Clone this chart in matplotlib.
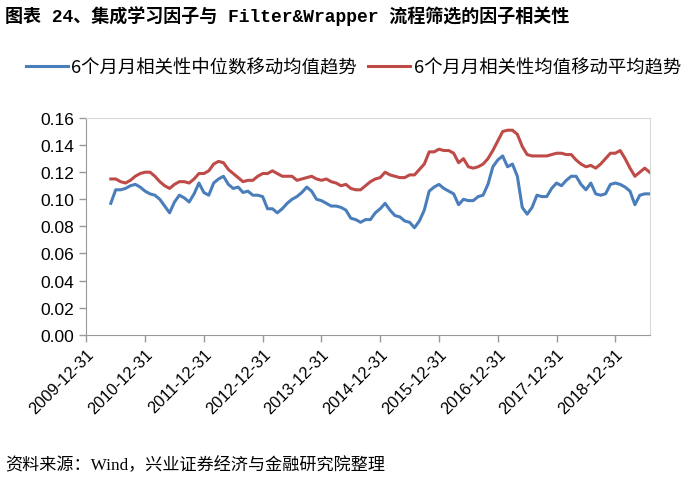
import numpy as np
import pandas as pd
import matplotlib
matplotlib.use("Agg")
import matplotlib.pyplot as plt

plt.rcParams["font.family"] = ["Noto Sans CJK SC", "DejaVu Sans"]

# monthly series, first value at 2010-05-31
median_ma = [
    0.097, 0.107, 0.107, 0.108, 0.110, 0.111, 0.109, 0.106, 0.104, 0.103,
    0.100, 0.095, 0.090, 0.098, 0.103, 0.101, 0.098, 0.104, 0.112, 0.105,
    0.103, 0.112, 0.115, 0.117, 0.111, 0.108, 0.109, 0.105, 0.106, 0.103,
    0.103, 0.102, 0.093, 0.093, 0.090, 0.093, 0.097, 0.100, 0.102, 0.105,
    0.109, 0.106, 0.100, 0.099, 0.097, 0.095, 0.095, 0.094, 0.092, 0.086,
    0.085, 0.083, 0.085, 0.085, 0.090, 0.093, 0.097, 0.092, 0.088, 0.087,
    0.084, 0.083, 0.079, 0.084, 0.092, 0.106, 0.109, 0.111, 0.108, 0.106,
    0.104, 0.096, 0.100, 0.099, 0.099, 0.102, 0.103, 0.111, 0.124, 0.129,
    0.132, 0.124, 0.126, 0.117, 0.094, 0.089, 0.094, 0.103, 0.102, 0.102,
    0.108, 0.112, 0.110, 0.114, 0.117, 0.117, 0.111, 0.107, 0.112, 0.104,
    0.103, 0.104, 0.111, 0.112, 0.111, 0.109, 0.106, 0.096, 0.103, 0.104,
    0.104,
]
mean_ma = [
    0.115, 0.115, 0.113, 0.112, 0.114, 0.117, 0.119, 0.120, 0.120, 0.117,
    0.113, 0.110, 0.108, 0.111, 0.113, 0.113, 0.112, 0.115, 0.119, 0.119,
    0.121, 0.126, 0.128, 0.127, 0.122, 0.119, 0.116, 0.113, 0.114, 0.114,
    0.117, 0.119, 0.119, 0.121, 0.119, 0.117, 0.117, 0.117, 0.114, 0.115,
    0.116, 0.117, 0.115, 0.114, 0.115, 0.113, 0.112, 0.110, 0.111, 0.108,
    0.107, 0.107, 0.110, 0.113, 0.115, 0.116, 0.120, 0.118, 0.117, 0.116,
    0.116, 0.118, 0.118, 0.122, 0.126, 0.135, 0.135, 0.137, 0.136, 0.136,
    0.134, 0.127, 0.130, 0.124, 0.123, 0.124, 0.126, 0.130, 0.136, 0.143,
    0.150, 0.151, 0.151, 0.148, 0.139, 0.133, 0.132, 0.132, 0.132, 0.132,
    0.133, 0.134, 0.134, 0.133, 0.133, 0.129, 0.126, 0.124, 0.125, 0.123,
    0.126, 0.130, 0.134, 0.134, 0.136, 0.130, 0.123, 0.117, 0.120, 0.123,
    0.120,
]
dates = pd.date_range("2010-05-31", periods=len(median_ma), freq="ME")
tick_labels = ["2009-12-31", "2010-12-31", "2011-12-31", "2012-12-31", "2013-12-31",
               "2014-12-31", "2015-12-31", "2016-12-31", "2017-12-31", "2018-12-31"]

# equal spacing per month, like a category axis
x = (dates.year - 2009) * 12 + dates.month - 12
tick_pos = np.arange(len(tick_labels)) * 12

fig = plt.figure(figsize=(7, 4.85), dpi=100)
ax = fig.add_axes([0.1233, 0.3078, 0.8047, 0.4468])

ax.plot(x, median_ma, color="#4a7ebb", lw=2.2, label="6个月月相关性中位数移动均值趋势")
ax.plot(x, mean_ma, color="#be4b48", lw=2.2, label="6个月月相关性均值移动平均趋势")

ax.set_xlim(0, 115)
ax.set_ylim(0, 0.16)
ax.set_yticks(np.arange(0, 0.161, 0.02))
ax.set_yticklabels([f"{v:.2f}" for v in np.arange(0, 0.161, 0.02)],
                   fontsize=12.5, family="Liberation Sans")
ax.set_xticks(tick_pos)
ax.set_xticklabels(tick_labels, rotation=45, ha="right", rotation_mode="anchor",
                   fontsize=11.8, family="Liberation Sans")
ax.tick_params(axis="both", direction="out", length=5, color="#999999", width=1)
ax.tick_params(axis="x", pad=3)

for side in ["top", "right"]:
    ax.spines[side].set_color("#d9d9d9")
for side in ["left", "bottom"]:
    ax.spines[side].set_color("#999999")

fig.legend(loc="center", bbox_to_anchor=(0.505, 0.859), ncol=2, frameon=False,
           fontsize=13.2, handlelength=2.3, handletextpad=0.2, columnspacing=0.6)

fig.text(0.007, 0.967, "图表 24、集成学习因子与 Filter&Wrapper 流程筛选的因子相关性",
         fontsize=13, fontweight="bold", va="center", ha="left",
         family=["Liberation Mono", "Noto Sans CJK SC"])
fig.text(0.007, 0.04, "资料来源：Wind，兴业证券经济与金融研究院整理",
         fontsize=12.3, va="center", ha="left",
         family=["Liberation Serif", "Noto Sans CJK SC"])

fig.savefig("out.png", dpi=100)
